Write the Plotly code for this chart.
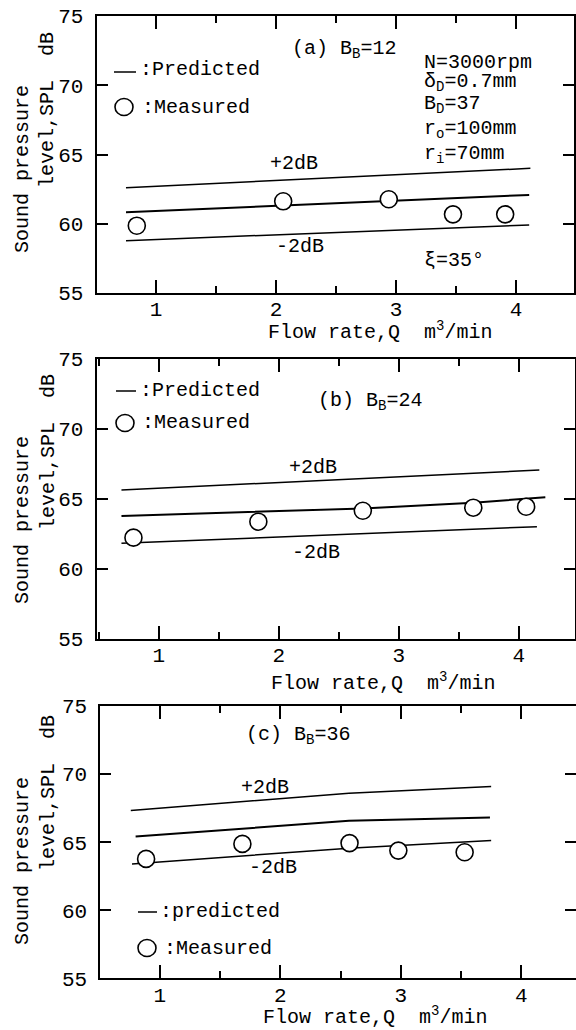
import plotly.graph_objects as go

# ---------------- data ----------------
# Panel (a) B_B = 12
a_pred_x = [0.75, 4.11]
a_pred_y = [60.83, 62.08]
a_up_x = [0.75, 4.12]
a_up_y = [62.60, 64.00]
a_lo_x = [0.75, 4.11]
a_lo_y = [58.78, 59.91]
a_meas_x = [0.84, 2.06, 2.94, 3.475, 3.91]
a_meas_y = [59.86, 61.62, 61.77, 60.68, 60.68]

# Panel (b) B_B = 24
b_pred_x = [0.69, 1.75, 2.70, 3.62, 4.22]
b_pred_y = [63.79, 64.08, 64.32, 64.74, 65.12]
b_up_x = [0.69, 4.17]
b_up_y = [65.64, 67.07]
b_lo_x = [0.69, 4.15]
b_lo_y = [61.84, 63.02]
b_meas_x = [0.79, 1.83, 2.70, 3.62, 4.06]
b_meas_y = [62.24, 63.38, 64.16, 64.38, 64.45]

# Panel (c) B_B = 36
c_pred_x = [0.80, 2.57, 3.74]
c_pred_y = [65.41, 66.57, 66.81]
c_up_x = [0.76, 2.57, 3.75]
c_up_y = [67.32, 68.60, 69.09]
c_lo_x = [0.77, 2.57, 3.75]
c_lo_y = [63.40, 64.56, 65.12]
c_meas_x = [0.887, 1.686, 2.575, 2.98, 3.53]
c_meas_y = [63.77, 64.87, 64.93, 64.38, 64.26]

y_ticks = [55, 60, 65, 70, 75]
x_ticks = [1, 2, 3, 4]

# ---------------- layout helpers ----------------
W, H = 576, 1030
FONT = "Liberation Mono"
FS = 20
TFS = 21


def px(x):
    return x / W


def py(y):
    return 1 - y / H


fig = go.Figure()

panels = [
    ("", (96.6, 574.3), (16, 293), [0.505, 4.486],
     (a_pred_x, a_pred_y, a_up_x, a_up_y, a_lo_x, a_lo_y, a_meas_x, a_meas_y)),
    ("2", (96.6, 575.0), (359, 639), [0.483, 4.467],
     (b_pred_x, b_pred_y, b_up_x, b_up_y, b_lo_x, b_lo_y, b_meas_x, b_meas_y)),
    ("3", (100.3, 576.0), (706, 978.3), [0.507, 4.454],
     (c_pred_x, c_pred_y, c_up_x, c_up_y, c_lo_x, c_lo_y, c_meas_x, c_meas_y)),
]

for suf, xd, yd, xr, s in panels:
    xa = "x" + suf
    ya = "y" + suf
    px_, py_, ux, uy, lx, ly, mx, my = s
    for xx, yy, w in ((ux, uy, 1.5), (lx, ly, 1.5), (px_, py_, 2.0)):
        fig.add_trace(go.Scatter(x=xx, y=yy, mode="lines",
                                 line=dict(color="black", width=w),
                                 xaxis=xa, yaxis=ya, showlegend=False,
                                 hoverinfo="skip"))
    fig.add_trace(go.Scatter(x=mx, y=my, mode="markers",
                             marker=dict(symbol="circle", size=17, color="white",
                                         line=dict(color="black", width=1.6)),
                             xaxis=xa, yaxis=ya, showlegend=False))
    xkey = "xaxis" + suf
    ykey = "yaxis" + suf
    fig.layout[xkey] = dict(
        domain=[px(xd[0]), min(1.0, px(xd[1]))], range=xr, anchor=ya, automargin=False,
        tickvals=x_ticks, ticks="inside", ticklen=13, tickwidth=2, tickcolor="black",
        minor=dict(dtick=0.5, tick0=0, ticks="inside", ticklen=7, tickwidth=1.5,
                   tickcolor="black"),
        showline=True, linewidth=2, linecolor="black", mirror="ticks",
        showgrid=False, zeroline=False,
        tickfont=dict(family=FONT, size=TFS, color="black"),
        ticklabelstandoff=-4,
    )
    fig.layout[ykey] = dict(
        domain=[py(yd[1]), py(yd[0])], range=[55, 75], anchor=xa, automargin=False,
        tickvals=y_ticks, ticks="inside", ticklen=11, tickwidth=2, tickcolor="black",
        showline=True, linewidth=2, linecolor="black", mirror="ticks",
        showgrid=False, zeroline=False,
        tickfont=dict(family=FONT, size=TFS, color="black"),
        ticklabelstandoff=7,
    )

ann = []
shapes = []


def text(t, x, y, xanchor="left", size=FS, angle=0):
    ann.append(dict(text=t, x=px(x), y=py(y), xref="paper", yref="paper",
                    xanchor=xanchor, yanchor="middle", showarrow=False,
                    textangle=angle,
                    font=dict(family=FONT, size=size, color="black")))


def legend(dx0, dx1, dy, tx, ty, word, cx, cy, mx_, my_):
    shapes.append(dict(type="line", xref="paper", yref="paper",
                       x0=px(dx0), x1=px(dx1), y0=py(dy), y1=py(dy),
                       line=dict(color="black", width=1.5)))
    text(":" + word, tx, ty)
    shapes.append(dict(type="circle", xref="paper", yref="paper",
                       x0=px(cx - 9), x1=px(cx + 9), y0=py(cy + 8.5), y1=py(cy - 8.5),
                       line=dict(color="black", width=1.6)))
    text(":Measured", mx_, my_)


# axis titles
for (ysp, ylev, xt, yt) in ((169, 110, 380, 331), (520, 452, 383, 682), (861, 793, 375, 1016)):
    text("Sound pressure", 22, ysp, xanchor="center", angle=-90)
    text("level,SPL  dB", 48, ylev, xanchor="center", angle=-90)
    text("Flow rate,Q  m<sup>3</sup>/min", xt, yt, xanchor="center")

# panel (a)
text("(a) B<sub>B</sub>=12", 290, 49)
text("N=3000rpm", 422, 63)
text("δ<sub>D</sub>=0.7mm", 422, 83)
text("B<sub>D</sub>=37", 422, 105)
text("r<sub>o</sub>=100mm", 422, 130)
text("r<sub>i</sub>=70mm", 422, 155)
text("ξ=35°", 422, 260)
text("+2dB", 268, 163)
text("-2dB", 274, 247)
legend(114, 136, 72, 138, 70, "Predicted", 124, 107, 140, 107)

# panel (b)
text("(b) B<sub>B</sub>=24", 316, 401)
text("+2dB", 287, 468)
text("-2dB", 290, 552)
legend(116, 136, 391, 138, 390, "Predicted", 125, 423, 140, 422)

# panel (c)
text("(c) B<sub>B</sub>=36", 244, 735)
text("+2dB", 239, 787)
text("-2dB", 247, 867)
legend(138, 157, 912, 158, 911, "predicted", 147, 948, 162, 948)

fig.update_layout(
    width=W, height=H, margin=dict(l=0, r=0, t=0, b=0, autoexpand=False),
    paper_bgcolor="white", plot_bgcolor="white",
    annotations=ann, shapes=shapes, showlegend=False,
)

# remove the browser's default 8 px page margin so the figure sits at the corner
fig.write_html(
    "out.html",
    config={"displayModeBar": False},
    post_script="document.body.style.margin='0';document.body.style.overflow='hidden';",
)
